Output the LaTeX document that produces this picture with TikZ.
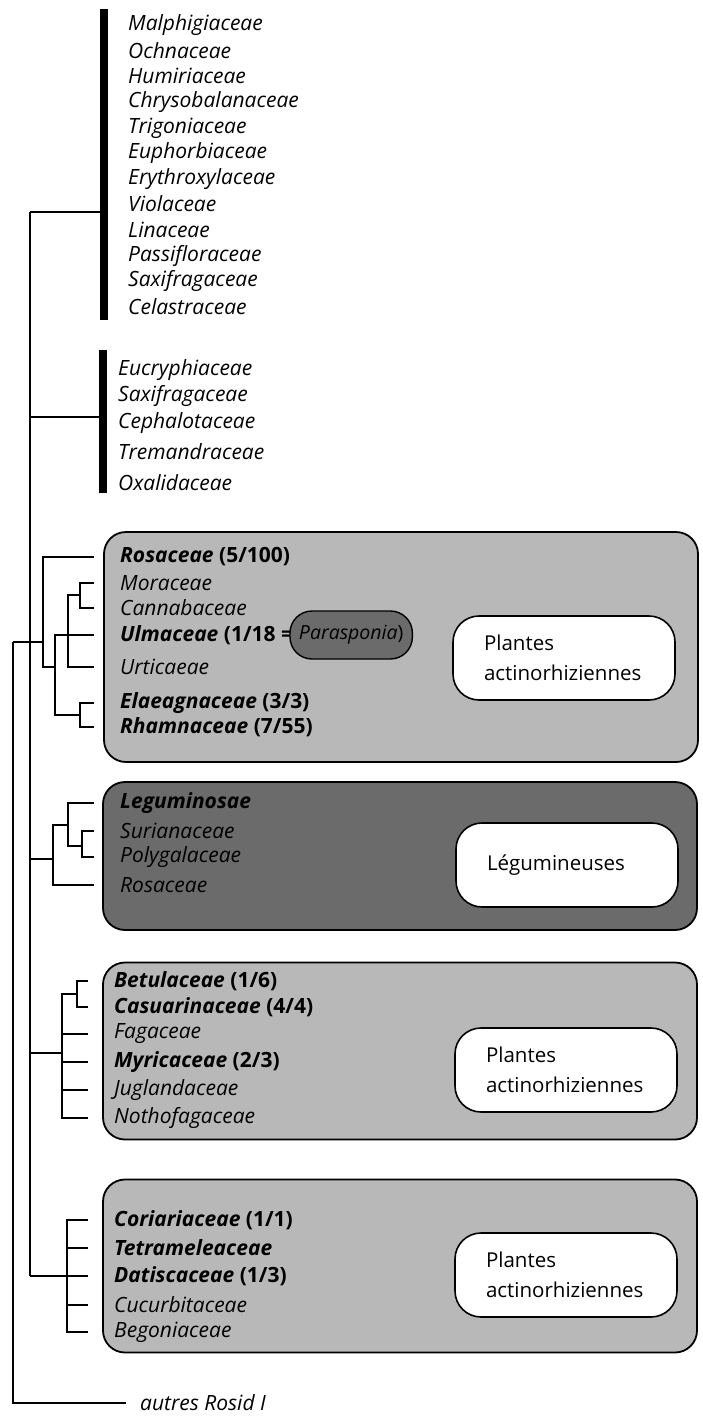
\documentclass[tikz,border=0pt]{standalone}
\usepackage{fontspec}
\setmainfont{Open Sans}
\usetikzlibrary{positioning,backgrounds}
\definecolor{cladegray}{gray}{0.72}
\definecolor{legumegray}{gray}{0.42}
\tikzset{
    taxon/.style={anchor=west, inner sep=0pt,
        font=\itshape\fontsize{21}{23}\selectfont},
    branch/.style={line width=1.3pt},
    twig/.style={branch, shorten >=26pt},
    famsbar/.style={line width=8pt},
    clade/.style={%
        draw, line width=1.8pt, rounded corners=22pt,
        minimum width=594pt,
        minimum height=#1
    },
    clade/.default=170pt,
    tag/.style={%
        draw, fill=white, line width=1.6pt, rounded corners=26pt,
        minimum width=222pt, minimum height=84pt,
        text width=160pt, inner xsep=31pt, align=left,
        font=\fontsize{20.5}{30}\selectfont
    },
    pill/.style={draw, fill=legumegray, line width=1.4pt,
        rounded corners=22pt, minimum height=48pt,
        inner xsep=9pt, inner ysep=0pt,
        font=\itshape\fontsize{19.5}{21}\selectfont}
}

\begin{document}
\begin{tikzpicture}[x=1pt, y=-1pt]
\useasboundingbox (0,0) rectangle (702,1418);

% first group
\node[taxon] (mal) at (128,25) {Malphigiaceae};
\node[taxon] (och) at (128,51) {Ochnaceae};
\node[taxon] (hum) at (128,76) {Humiriaceae};
\node[taxon] (chr) at (128,102) {Chrysobalanaceae};
\node[taxon] (tri) at (128,128) {Trigoniaceae};
\node[taxon] (eup) at (128,153) {Euphorbiaceae};
\node[taxon] (ery) at (128,179) {Erythroxylaceae};
\node[taxon] (vio) at (128,204) {Violaceae};
\node[taxon] (lin) at (128,230) {Linaceae};
\node[taxon] (pas) at (128,256) {Passifloraceae};
\node[taxon] (sax) at (128,281) {Saxifragaceae};
\node[taxon] (cel) at (128,307) {Celastraceae};
\coordinate (bar1a) at (104,9);
\coordinate (bar1b) at (104,320);
\draw[famsbar] (bar1a) -- (bar1b);

% second group
\node[taxon] (euc) at (118,370) {Eucryphiaceae};
\node[taxon] (sax2) at (118,396) {Saxifragaceae};
\node[taxon] (cep) at (118,423) {Cephalotaceae};
\node[taxon] (tre) at (118,452) {Tremandraceae};
\node[taxon] (oxa) at (118,483) {Oxalidaceae};
\coordinate (bar2a) at (103,350);
\coordinate (bar2b) at (103,493);
\draw[famsbar] (bar2a) -- (bar2b);

% shaded clades
\begin{scope}[on background layer]
\node[clade=230pt, fill=cladegray] (boxA) at (401,647) {};
\node[clade=148pt, fill=legumegray] (boxB) at (400,856) {};
\node[clade=177pt, fill=cladegray] (boxC) at (400,1051) {};
\node[clade=173pt, fill=cladegray] (boxD) at (400,1266) {};
\end{scope}

% Rosaceae ... Rhamnaceae
\node[taxon] (ros) at (120,557) {\textbf{Rosaceae \textup{(5/100)}}};
\node[taxon] (mor) at (120,583) {Moraceae};
\node[taxon] (can) at (120,608) {Cannabaceae};
\node[taxon] (ulm) at (120,635) {\textbf{Ulmaceae \textup{(1/18 =}}};
\node[pill, right=-4pt of ulm] (para) {Parasponia\textup{)}};
\node[taxon] (urt) at (120,667) {Urticaeae};
\node[taxon] (ela) at (120,703) {\textbf{Elaeagnaceae \textup{(3/3)}}};
\node[taxon] (rha) at (120,727) {\textbf{Rhamnaceae \textup{(7/55)}}};
\node[tag] (actA) at (564,658) {Plantes\\actinorhiziennes};

% legumes
\node[taxon] (leg) at (120,803) {\textbf{Leguminosae}};
\node[taxon] (sur) at (120,831) {Surianaceae};
\node[taxon] (pol) at (120,857) {Polygalaceae};
\node[taxon] (ros2) at (120,885) {Rosaceae};
\node[tag] (legB) at (567,865) {L\'egumineuses};

% Betulaceae ... Nothofagaceae
\node[taxon] (bet) at (114,981) {\textbf{Betulaceae \textup{(1/6)}}};
\node[taxon] (cas) at (114,1007) {\textbf{Casuarinaceae \textup{(4/4)}}};
\node[taxon] (fag) at (114,1034) {Fagaceae};
\node[taxon] (myr) at (114,1062) {\textbf{Myricaceae \textup{(2/3)}}};
\node[taxon] (jug) at (114,1090) {Juglandaceae};
\node[taxon] (not) at (114,1118) {Nothofagaceae};
\node[tag] (actC) at (566,1070) {Plantes\\actinorhiziennes};

% Coriariaceae ... Begoniaceae
\node[taxon] (cor) at (114,1220) {\textbf{Coriariaceae \textup{(1/1)}}};
\node[taxon] (tet) at (114,1248) {\textbf{Tetrameleaceae}};
\node[taxon] (dat) at (114,1276) {\textbf{Datiscaceae \textup{(1/3)}}};
\node[taxon] (cuc) at (114,1305) {Cucurbitaceae};
\node[taxon] (beg) at (114,1332) {Begoniaceae};
\node[tag] (actD) at (566,1275) {Plantes\\actinorhiziennes};

\node[taxon] (aut) at (140,1403) {autres Rosid I};

% trunks
\coordinate (t0) at (30,212);
\coordinate (t1) at (30,417);
\coordinate (t2) at (30,859);
\coordinate (t3) at (30,1053);
\coordinate (t4) at (30,1276);
\coordinate (r0) at (13,642);
\draw[branch] (t0) -- (t4);
\draw[branch] (t0) -- (bar1a |- t0);
\draw[branch] (t1) -- (bar2a |- t1);
\draw[branch, shorten >=-1pt] (r0) |- ([xshift=-15pt]aut.west);

% rosid clade with Parasponia
\coordinate (a1) at (43,642);
\coordinate (a2) at (55,667);
\coordinate (a3) at (68,635);
\coordinate (a4) at (80,595);
\coordinate (a5) at (80,715);
\draw[branch] (r0) -- (a1);
\draw[twig] (a1) |- (ros.west);
\draw[branch] (a1) |- (a2);
\draw[branch] (a2) |- (a3);
\draw[branch] (a2) |- (a5);
\draw[twig] (a3) -- (ulm.west);
\draw[twig] (a3) |- (urt.west);
\draw[branch] (a3) |- (a4);
\draw[twig] (a4) |- (mor.west);
\draw[twig] (a4) |- (can.west);
\draw[twig] (a5) |- (ela.west);
\draw[twig] (a5) |- (rha.west);

% legume clade
\coordinate (b1) at (53,859);
\coordinate (b2) at (68,825);
\coordinate (b3) at (82,846);
\draw[branch] (t2) -- (b1);
\draw[twig] (b1) |- (ros2.west);
\draw[branch] (b1) |- (b2);
\draw[twig] (b2) |- (leg.west);
\draw[branch] (b2) |- (b3);
\draw[twig] (b3) |- (sur.west);
\draw[twig] (b3) |- (pol.west);

% Fagales
\coordinate (c1) at (62,1053);
\coordinate (c2) at (77,994);
\draw[branch] (t3) -- (c1);
\draw[branch] (c1) |- (c2);
\draw[twig] (c2) |- (bet.west);
\draw[twig] (c2) |- (cas.west);
\draw[twig] (c1) |- (fag.west);
\draw[twig] (c1) |- (myr.west);
\draw[twig] (c1) |- (jug.west);
\draw[twig] (c1) |- (not.west);

% Cucurbitales
\coordinate (d1) at (67,1276);
\draw[branch] (t4) -- (d1);
\draw[twig] (d1) |- (cor.west);
\draw[twig] (d1) |- (tet.west);
\draw[twig] (d1) -- (dat.west);
\draw[twig] (d1) |- (cuc.west);
\draw[twig] (d1) |- (beg.west);
\end{tikzpicture}
\end{document}
